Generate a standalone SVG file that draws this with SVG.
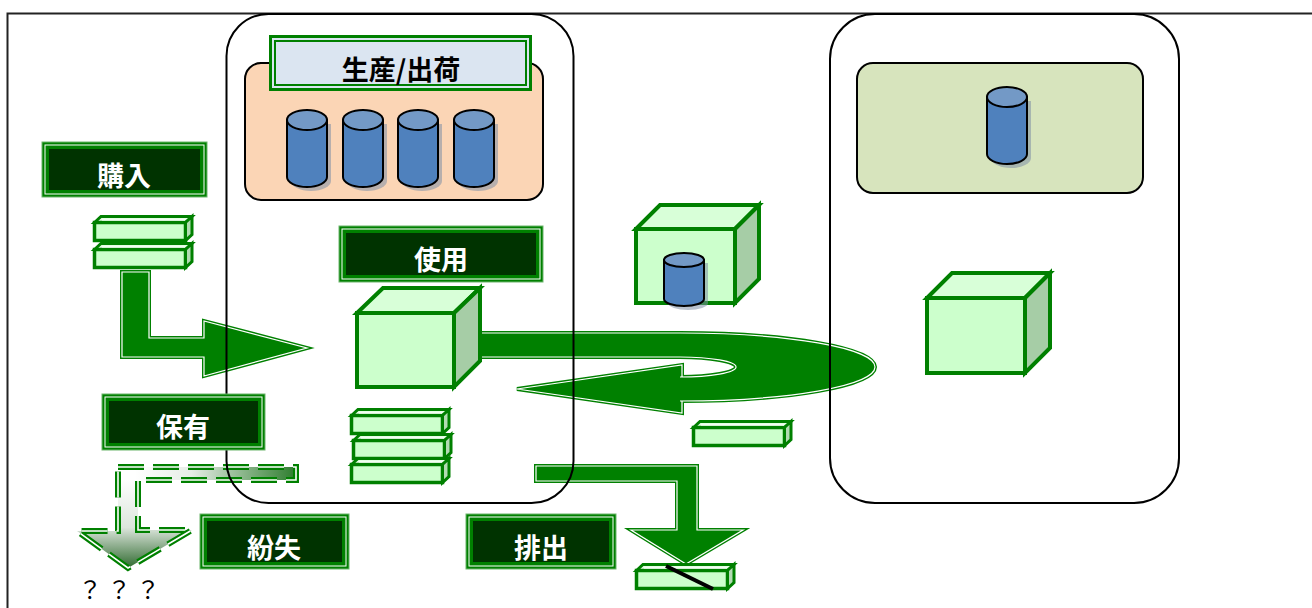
<svg xmlns="http://www.w3.org/2000/svg" xmlns:xlink="http://www.w3.org/1999/xlink" width="1312" height="608" viewBox="0 0 1312 608">
  <style>
    .frame { fill: none; stroke: #222; stroke-width: 2; }
    .zone { fill: none; stroke: #000; stroke-width: 2; }
    .lb-o { fill: #008000; stroke: #6DB56D; stroke-width: 1; }
    .lb-w { fill: none; stroke: #ffffff; stroke-width: 1; }
    .lb-i { fill: #003300; stroke: #008000; stroke-width: 3; }
    .lb-t { fill: #ffffff; font-family: "Noto Sans CJK JP", sans-serif; font-weight: bold; font-size: 27px; text-anchor: middle; }
    .arw-base { fill: #008000; stroke: #008000; stroke-width: 4; stroke-linejoin: miter; }
    .arw-line { fill: none; stroke: #ffffff; stroke-width: 1.2; stroke-linejoin: miter; }
    .cube { stroke: #008000; stroke-width: 4; stroke-linejoin: miter; }
    .c-front { fill: #CCFFCC; }
    .c-top { fill: #D8FFD8; }
    .c-side { fill: #A6CDA6; }
    .cyl-body { fill: #4F81BD; stroke: #000; stroke-width: 2; }
    .cyl-top { fill: #7399C6; stroke: #000; stroke-width: 2; }
    .cyl-shadow { fill: #7F8FA6; opacity: 0.55; }
  </style>
  <defs>
    <!-- flat 3D slab -->
    <g id="bar">
      <polygon points="1.5,7.5 8,1.5 99,1.5 92.5,7.5" fill="#E4FFE4" stroke="#008000" stroke-width="3"/>
      <rect x="1.5" y="7.5" width="91" height="18" fill="#CCFFCC" stroke="#008000" stroke-width="3.5"/>
      <polygon points="92.5,7.5 99,1.5 99,19.5 92.5,25.5" fill="#B3DBB3" stroke="#008000" stroke-width="3"/>
      <line x1="9" y1="5" x2="92" y2="5" stroke="#ffffff" stroke-width="1"/>
    </g>
    <!-- storage cylinder, origin at centre of the top ellipse -->
    <g id="cyl">
      <path class="cyl-shadow" d="M-16,4 V61 A20,10 0 0 0 24,61 V4 Z"/>
      <path class="cyl-body" d="M-20,0 V57 A20,10 0 0 0 20,57 V0 Z"/>
      <ellipse class="cyl-top" cx="0" cy="0" rx="20" ry="10"/>
    </g>
    <!-- arrow outlines -->
    <path id="p-buy" d="M122,272 H149 V338 H204 V321 L307,348 L204,376 V357 H122 Z"/>
    <path id="p-loop" d="M480,333 H680 A195,34 0 0 1 680,401 H682 V413 L517,389 L682,365 V377 H680 A56,10 0 0 0 680,357 H480 Z"/>
    <path id="p-out" d="M536,466 H697 V530 H743 L686,564 L631,530 H677 V481 H536 Z"/>
    <path id="p-lost" d="M118,467 H296 V480 H138 V530 H192 L128,568 L77,531 H118 Z"/>
    <linearGradient id="g-lost-h" gradientUnits="userSpaceOnUse" x1="135" y1="0" x2="296" y2="0">
      <stop offset="0" stop-color="#ffffff"/>
      <stop offset="0.35" stop-color="#E6EDE6"/>
      <stop offset="1" stop-color="#2E7D2E"/>
    </linearGradient>
    <linearGradient id="g-lost-v" gradientUnits="userSpaceOnUse" x1="0" y1="478" x2="0" y2="568">
      <stop offset="0" stop-color="#ffffff"/>
      <stop offset="0.55" stop-color="#DDE6DD"/>
      <stop offset="1" stop-color="#2F6A2F"/>
    </linearGradient>
  </defs>

  <rect width="1312" height="608" fill="#ffffff"/>
  <!-- page frame -->
  <rect class="frame" x="7.5" y="13.5" width="1330" height="640"/>

  <!-- connectors -->
  <g id="connectors">
    <g id="arrow-buy">
      <use xlink:href="#p-buy" class="arw-base"/>
      <use xlink:href="#p-buy" class="arw-line"/>
    </g>
    <g id="arrow-loop">
      <use xlink:href="#p-loop" class="arw-base"/>
      <use xlink:href="#p-loop" class="arw-line"/>
    </g>
    <g id="arrow-out">
      <use xlink:href="#p-out" class="arw-base"/>
      <use xlink:href="#p-out" class="arw-line"/>
    </g>
    <g id="arrow-lost">
      <polygon points="118,467 296,467 296,480 138,480 118,480" fill="url(#g-lost-h)"/>
      <polygon points="118,480 138,480 138,530 192,530 128,568 77,531 118,531" fill="url(#g-lost-v)"/>
      <use xlink:href="#p-lost" fill="none" stroke="#008000" stroke-width="6" stroke-dasharray="26 9"/>
      <use xlink:href="#p-lost" fill="none" stroke="#ffffff" stroke-width="1.6" stroke-dasharray="26 9"/>
    </g>
  </g>

  <!-- zones -->
  <g id="zone-left">
    <rect class="zone" x="226.5" y="14" width="347" height="489" rx="42" ry="42"/>
  </g>
  <g id="zone-right">
    <rect class="zone" x="830" y="14" width="349" height="489" rx="45" ry="45"/>
  </g>

  <!-- production / shipping store -->
  <g id="production">
    <rect x="245" y="63" width="298" height="137" rx="16" ry="16" fill="#FBD5B5" stroke="#000" stroke-width="2"/>
    <use xlink:href="#cyl" x="307" y="120"/>
    <use xlink:href="#cyl" x="363" y="120"/>
    <use xlink:href="#cyl" x="418" y="120"/>
    <use xlink:href="#cyl" x="474" y="120"/>
  </g>
  <g id="production-title">
    <rect x="269" y="35" width="263" height="56" fill="#C8D0C8"/>
    <rect x="270.5" y="36.5" width="260" height="53" fill="#DBE5F1" stroke="#008000" stroke-width="3"/>
    <rect x="275" y="41" width="251" height="44" fill="none" stroke="#008000" stroke-width="2"/>
    <text x="401" y="80" font-family="Noto Sans CJK JP, sans-serif" font-weight="bold" font-size="27" text-anchor="middle" fill="#000">生産/出荷</text>
  </g>

  <!-- right-hand store -->
  <g id="store-right">
    <rect x="857" y="63" width="286" height="130" rx="16" ry="16" fill="#D7E4BD" stroke="#000" stroke-width="2"/>
    <use xlink:href="#cyl" x="1007" y="97"/>
  </g>

  <!-- labels -->
  <g id="label-buy">
    <rect class="lb-o" x="42" y="142" width="165" height="55"/>
    <rect class="lb-w" x="45" y="145" width="159" height="49"/>
    <rect class="lb-i" x="47.5" y="147.5" width="154" height="44"/>
    <text class="lb-t" x="124" y="186">購入</text>
  </g>
  <g id="label-use">
    <rect class="lb-o" x="339" y="226" width="204" height="56"/>
    <rect class="lb-w" x="342" y="229" width="198" height="50"/>
    <rect class="lb-i" x="344.5" y="231.5" width="193" height="45"/>
    <text class="lb-t" x="441" y="270">使用</text>
  </g>
  <g id="label-hold">
    <rect class="lb-o" x="102" y="394" width="163" height="56"/>
    <rect class="lb-w" x="105" y="397" width="157" height="50"/>
    <rect class="lb-i" x="107.5" y="399.5" width="152" height="45"/>
    <text class="lb-t" x="183" y="437">保有</text>
  </g>
  <g id="label-lost">
    <rect class="lb-o" x="200" y="514" width="149" height="55"/>
    <rect class="lb-w" x="203" y="517" width="143" height="49"/>
    <rect class="lb-i" x="205.5" y="519.5" width="138" height="44"/>
    <text class="lb-t" x="274" y="558">紛失</text>
  </g>
  <g id="label-out">
    <rect class="lb-o" x="466" y="514" width="150" height="55"/>
    <rect class="lb-w" x="469" y="517" width="144" height="49"/>
    <rect class="lb-i" x="471.5" y="519.5" width="139" height="44"/>
    <text class="lb-t" x="541" y="558">排出</text>
  </g>

  <!-- purchased slabs -->
  <g id="bars-buy">
    <use xlink:href="#bar" x="93" y="215"/>
    <use xlink:href="#bar" x="93" y="242"/>
  </g>

  <!-- cube in use -->
  <g id="cube-use" class="cube">
    <polygon class="c-top" points="357,313 383,288 480,288 454,313"/>
    <polygon class="c-side" points="454,313 480,288 480,361 454,387"/>
    <rect class="c-front" x="357" y="313" width="97" height="74"/>
  </g>

  <!-- held slabs -->
  <g id="bars-hold">
    <use xlink:href="#bar" x="350" y="408"/>
    <use xlink:href="#bar" x="352" y="433"/>
    <use xlink:href="#bar" x="350" y="457"/>
  </g>

  <!-- cube with cylinder -->
  <g id="cube-cyl">
    <g class="cube">
      <polygon class="c-top" points="636,229 660,205 759,205 735,229"/>
      <polygon class="c-side" points="735,229 759,205 759,279 735,303"/>
      <rect class="c-front" x="636" y="229" width="99" height="74"/>
    </g>
    <path class="cyl-shadow" d="M668,263 V303 A20,7 0 0 0 708,303 V263 Z"/>
    <path class="cyl-body" d="M664,260 V299 A20,7 0 0 0 704,299 V260 Z"/>
    <ellipse class="cyl-top" cx="684" cy="260" rx="20" ry="7"/>
  </g>

  <!-- single slab -->
  <g id="bar-single">
    <use xlink:href="#bar" x="692" y="420"/>
  </g>

  <!-- right cube -->
  <g id="cube-right" class="cube">
    <polygon class="c-top" points="927,298 952,273 1050,273 1025,298"/>
    <polygon class="c-side" points="1025,298 1050,273 1050,348 1025,373"/>
    <rect class="c-front" x="927" y="298" width="98" height="75"/>
  </g>

  <!-- discarded slab -->
  <g id="bar-discard">
    <use xlink:href="#bar" x="635" y="563"/>
    <line x1="666" y1="566" x2="713" y2="589" stroke="#000" stroke-width="4"/>
  </g>

  <!-- unknown destination -->
  <g id="unknown">
    <text x="90 119 148" y="599" font-family="Noto Sans CJK JP, sans-serif" font-size="24" text-anchor="middle" fill="#000">？？？</text>
  </g>
</svg>
